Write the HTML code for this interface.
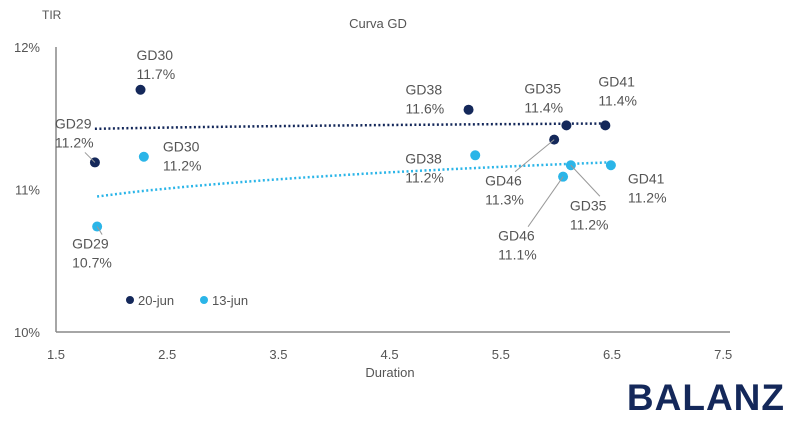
<!DOCTYPE html>
<html><head><meta charset="utf-8"><style>
body{margin:0;background:#fff;width:800px;height:429px;overflow:hidden;font-family:"Liberation Sans",sans-serif}
svg text{font-family:"Liberation Sans",sans-serif;fill:#555}
</style></head><body>
<svg id="chart" width="800" height="429" xmlns="http://www.w3.org/2000/svg">
<text x="378" y="28" font-size="13" text-anchor="middle">Curva GD</text>
<text x="42" y="19" font-size="12">TIR</text>
<text x="390" y="377" font-size="13" text-anchor="middle">Duration</text>
<g id="axes"></g><g id="marks"></g>
<text x="785" y="410" font-size="37" font-weight="bold" text-anchor="end" style="fill:#14285a" letter-spacing="1">BALANZ</text>
</svg>
<script>
const bonds=["GD29","GD30","GD38","GD46","GD35","GD41"];
const durJun20=[1.85,2.26,5.21,5.98,6.09,6.44];
const tirJun20=[11.19,11.70,11.56,11.35,11.45,11.45];
const durJun13=[1.87,2.29,5.27,6.06,6.13,6.49];
const tirJun13=[10.74,11.23,11.24,11.09,11.17,11.17];
const xTicks=[1.5,2.5,3.5,4.5,5.5,6.5,7.5];
const yTicks=[10,11,12];
const NS="http://www.w3.org/2000/svg";
const X=v=>56+(v-1.5)*111.2, Y=v=>332-(v-10)*142.5;
function mk(t,a,p){const e=document.createElementNS(NS,t);for(const k in a)e.setAttribute(k,a[k]);p.appendChild(e);return e;}
const axes=document.getElementById('axes'),marks=document.getElementById('marks');
let l=mk('line',{x1:56,y1:Y(12),x2:56,y2:332,stroke:'#888','stroke-width':1.5},axes);


l=mk('line',{x1:56,y1:332,x2:730,y2:332,stroke:'#888','stroke-width':1.5},axes);


xTicks.forEach(v=>{const t=mk('text',{x:X(v),y:359,'font-size':13,'text-anchor':'middle'},axes);t.textContent=v.toFixed(1);

});
yTicks.forEach(v=>{const t=mk('text',{x:40,y:Y(v)+5,'font-size':13,'text-anchor':'end'},axes);t.textContent=v+'%';

});
function logfit(xs,ys){const lx=xs.map(Math.log),n=xs.length;const mx=lx.reduce((a,b)=>a+b)/n,my=ys.reduce((a,b)=>a+b)/n;let sxy=0,sxx=0;lx.forEach((v,i)=>{sxy+=(v-mx)*(ys[i]-my);sxx+=(v-mx)*(v-mx);});const b=sxy/sxx;return x=>my+b*(Math.log(x)-mx);}
function trend(xs,ys,col,name){const f=logfit(xs,ys);let d='';const x0=Math.min(...xs),x1=Math.max(...xs);for(let i=0;i<=40;i++){const x=x0+(x1-x0)*i/40;d+=(i?'L':'M')+X(x).toFixed(1)+','+Y(f(x)).toFixed(1);}
const p=mk('path',{d:d,fill:'none',stroke:col,'stroke-width':2.5,'stroke-dasharray':'2 2.5'},marks);

}
trend(durJun20,tirJun20,'#14285a','trend-20-jun');
trend(durJun13,tirJun13,'#2bb5e8','trend-13-jun');
const off20=[[-40,-34],[-4,-30],[-63,-15],[-69,46],[-42,-32],[-7,-39]];
const off13=[[-25,22],[19,-5],[-70,8],[-65,64],[-1,45],[17,18]];
function series(xs,ys,col,offs,name){xs.forEach((x,i)=>{const cx=X(x),cy=Y(ys[i]);
const c=mk('circle',{cx:cx,cy:cy,r:5,fill:col},marks);


const [dx,dy]=offs[i];const t=mk('text',{x:cx+dx,y:cy+dy,'font-size':14},marks);
t.innerHTML='<tspan x="'+(cx+dx)+'">'+bonds[i]+'</tspan><tspan x="'+(cx+dx)+'" dy="19">'+ys[i].toFixed(1)+'%</tspan>';


if(Math.abs(dy)>40||i==0){const ly=dy>0?cy+dy-14:cy+dy+24;const ll=mk('line',{x1:cx,y1:cy,x2:cx+dx+30,y2:ly,stroke:'#999','stroke-width':1},marks);

}});}
series(durJun20,tirJun20,'#14285a',off20,'point-20-jun');
series(durJun13,tirJun13,'#2bb5e8',off13,'point-13-jun');
const lg=[['20-jun','#14285a',130],['13-jun','#2bb5e8',204]];
lg.forEach(e=>{const g=mk('g',{},marks);

mk('circle',{cx:e[2],cy:300,r:4,fill:e[1]},g);const t=mk('text',{x:e[2]+8,y:305,'font-size':13},g);t.textContent=e[0];});
</script>
</body></html>
